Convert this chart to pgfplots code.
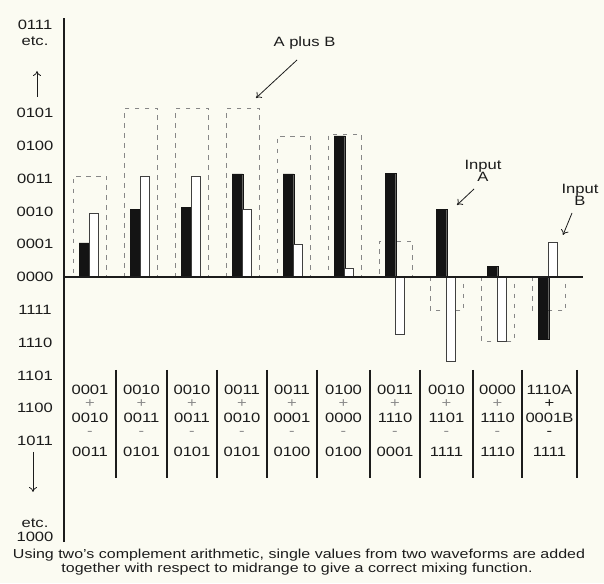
\documentclass[border=0pt]{standalone}
\usepackage{fontspec}
\setmainfont[FakeStretch=1.23]{Liberation Sans}
\usepackage{pgfplots}
\pgfplotsset{compat=1.18}
\usetikzlibrary{arrows.meta}
\definecolor{bg}{RGB}{251,251,242}
\definecolor{ink}{RGB}{28,28,28}
\definecolor{dash}{RGB}{135,135,135}
\newcommand\f{\fontsize{13.5}{16.5}\selectfont}
\newcommand\ft{\fontsize{13.5}{13}\selectfont}
\newcommand\fc{\fontsize{13}{15}\selectfont}
\newcommand\g[1]{\textcolor{black!45}{#1}}
\begin{document}
\begin{tikzpicture}[x=1pt,y=1pt]
\useasboundingbox (0,0) rectangle (604,583);
\fill[bg] (0,0) rectangle (604,583);
\begin{axis}[at={(64pt,41pt)}, anchor=south west, scale only axis,
  width=519pt, height=524pt,
  xmin=0.4902, xmax=10.667, ymin=-8.079, ymax=7.896,
  axis x line=none, axis y line=left,
  axis line style={-, line width=1.3pt, draw=ink},
  xtick=\empty,
  ytick={-5,-4,-3,-2,-1,0,1,2,3,4,5},
  yticklabels={1011,1100,1101,1110,1111,0000,0001,0010,0011,0100,0101},
  major tick length=0pt,
  yticklabel style={font=\f, text=ink, anchor=center, xshift=-29pt},
  clip=false]
% A plus B (dashed outline)
\addplot[ybar, bar width=33pt, bar shift=0pt, draw=dash, fill=none, line width=0.8pt,
  dash pattern=on 4.5pt off 5.5pt] coordinates {
  (1,3.08) (2,5.15) (3,5.15) (4,5.15) (5,4.30) (6,4.35) (7,1.09) (8,-1.03) (9,-1.95) (10,-1.03)};
% Input A (black)
\addplot[ybar, bar width=10.5pt, bar shift=-5.5pt, fill=black!92, draw=black!92] coordinates {
  (1,1.04) (2,2.07) (3,2.13) (4,3.14) (5,3.14) (6,4.30) (7,3.15) (8,2.07) (9,0.33) (10,-1.89)};
% Input B (white)
\addplot[ybar, bar width=9pt, bar shift=4pt, fill=white, draw=black!75, line width=0.7pt] coordinates {
  (1,1.95) (2,3.08) (3,3.08) (4,2.07) (5,1.00) (6,0.27) (7,-1.74) (8,-2.56) (9,-1.95) (10,1.07)};
\draw[ink, line width=1.2pt] (axis cs:0.4902,0) -- (axis cs:10.667,0);
\end{axis}
% y-axis end labels and arrows
\node[font=\f, text=ink, align=center] at (35,550) {0111\\[-1pt]etc.};
\node[font=\f, text=ink, align=center] at (35,53) {etc.\\[-3pt]1000};
\draw[ink, line width=0.8pt, -{To[length=5pt,width=8pt]}] (37,486) -- (37,512);
\draw[ink, line width=0.8pt, -{To[length=5pt,width=8pt]}] (33,131) -- (33,91);
% table column lines
\foreach \c in {116,167,217,267,317,370,420,473,522,577}
  \draw[ink, line width=1.1pt] (\c,213) -- (\c,105);
% table text (one node per column)
\foreach \x/\a/\b/\s in {90/0001/0010/0011, 141.5/0010/0011/0101, 192/0010/0011/0101,
   242/0011/0010/0101, 292/0011/0001/0100, 343.5/0100/0000/0100, 395/0011/1110/0001,
   446.5/0010/1101/1111, 497.5/0000/1110/1110}{
  \node[font=\ft, text=ink, inner sep=0pt, align=center, anchor=north] at (\x,197.7)
    {\a\\[-0.3pt]\g{+}\\[2.3pt]\b\\\g{-}\\[8pt]\s};
}
\node[font=\ft, text=ink, inner sep=0pt, align=center, anchor=north] at (549.5,197.7)
    {1110A\\[-0.3pt]+\\[2.3pt]0001B\\-\\[8pt]1111};
% annotations
\node[font=\f, text=ink] at (304.5,540) {A plus B};
\draw[ink, line width=0.8pt, -{To[length=5pt,width=8pt]}] (297,523) -- (256,485);
\node[font=\f, text=ink, align=center] at (483,412) {Input\\[-4pt]A};
\draw[ink, line width=0.8pt, -{To[length=5pt,width=8pt]}] (474,394) -- (457,378);
\node[font=\f, text=ink, align=center] at (580,388) {Input\\[-4pt]B};
\draw[ink, line width=0.8pt, -{To[length=5pt,width=8pt]}] (572,370) -- (563,348);
% caption
\node[font=\fc, text=ink, inner sep=0pt] at (299,28) {Using two's complement arithmetic, single values from two waveforms are added};
\node[font=\fc, text=ink, inner sep=0pt] at (297,14) {together with respect to midrange to give a correct mixing function.};
\end{tikzpicture}
\end{document}
